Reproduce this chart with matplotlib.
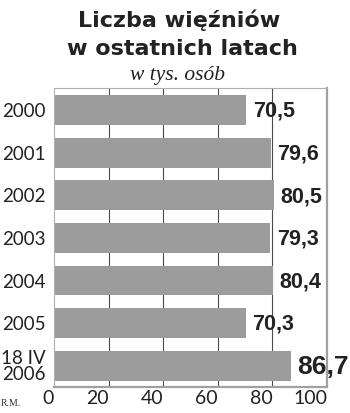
import matplotlib
matplotlib.use("Agg")
import matplotlib.pyplot as plt

categories = ["2000", "2001", "2002", "2003", "2004", "2005", "18 IV\n2006"]
values = [70.5, 79.6, 80.5, 79.3, 80.4, 70.3, 86.7]
value_labels = ["70,5", "79,6", "80,5", "79,3", "80,4", "70,3", "86,7"]
xticks = [0, 20, 40, 60, 80, 100]

fig = plt.figure(figsize=(3.5, 4.13), dpi=100)
ax = fig.add_axes([54/350, 26/413, 273/350, 299/413])

ypos = list(range(len(categories)))
ax.barh(ypos, values, height=0.70, color="#9c9c9c", zorder=2)
ax.set_xlim(0, 100)
ax.set_ylim(6.5, -0.52)

for x in xticks[1:-1]:
    ax.axvline(x, color="#4a4a4a", lw=0.8, zorder=1)

for i, (v, lab) in enumerate(zip(values, value_labels)):
    big = (i == len(values) - 1)
    ax.text(v + 2.3, i + 0.03, lab, ha="left", va="center",
            fontsize=19 if big else 15.5, fontweight="bold",
            color="#222222", family="Liberation Sans", zorder=3)

ax.set_yticks(ypos)
ax.set_yticklabels(categories, fontsize=13.5, family="Lato", color="#222222",
                   linespacing=0.92)
ax.set_xticks(xticks)
ax.set_xticklabels([str(x) for x in xticks], fontsize=14, family="Lato",
                   color="#222222", ha="right")
ax.tick_params(axis="both", length=0)
ax.tick_params(axis="y", pad=6)
ax.tick_params(axis="x", pad=2)

for side in ["top", "left"]:
    ax.spines[side].set_color("#b0b0b0")
    ax.spines[side].set_linewidth(0.8)
for side in ["right", "bottom"]:
    ax.spines[side].set_color("#a0a0a0")
    ax.spines[side].set_linewidth(1.6)

fig.text(179/350, 1 - 27/413, "Liczba więźniów", ha="center", va="baseline",
         fontsize=16, fontweight="bold", color="#222222", family="DejaVu Sans")
fig.text(182/350, 1 - 55/413, "w ostatnich latach", ha="center", va="baseline",
         fontsize=16, fontweight="bold", color="#222222", family="DejaVu Sans")
fig.text(178/350, 1 - 80/413, "w tys. osób", ha="center", va="baseline",
         fontsize=15.5, style="italic", color="#222222", family="Liberation Serif")
fig.text(1/350, 1 - 406/413, "R.M.", ha="left", va="baseline",
         fontsize=7, color="#333333", family="Liberation Serif")

fig.savefig("out.png", dpi=100, facecolor="white")
